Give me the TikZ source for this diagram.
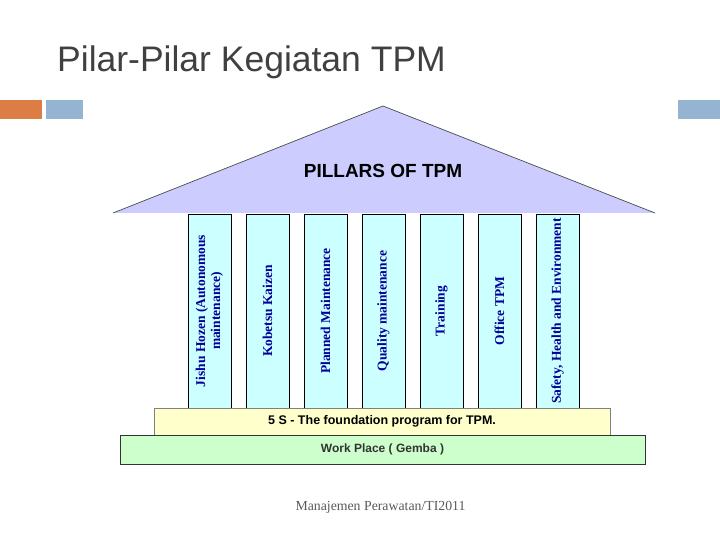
\documentclass[tikz,border=0pt]{standalone}
\usepackage{fontspec}
\setmainfont{Liberation Serif}
\setsansfont{Liberation Sans}
\usepackage{xcolor}
\usetikzlibrary{positioning,calc}
\definecolor{tpmorange}{HTML}{DC7D46}
\definecolor{tpmsteel}{HTML}{94B4D2}
\definecolor{tpmroof}{HTML}{CCCCFF}
\definecolor{tpmcyan}{HTML}{CCFFFF}
\definecolor{tpmyellow}{HTML}{FFFFCC}
\definecolor{tpmgreen}{HTML}{CCFFCC}
\definecolor{tpmnavy}{HTML}{000099}
\definecolor{tpmtitle}{HTML}{404040}

\begin{document}
\begin{tikzpicture}[x=1pt, y=-1pt,
    pillar/.style={draw=black, line width=0.8pt, fill=tpmcyan, rotate=90,
                   minimum width=194pt, minimum height=43pt, inner sep=1pt,
                   font=\fontsize{13.5}{15}\selectfont\bfseries, text=tpmnavy,
                   align=center},
    band/.style={line width=0.7pt, inner sep=0pt,
                 font=\sffamily\bfseries\fontsize{12.5}{14}\selectfont},
    deco/.style={inner sep=0pt, minimum height=19pt}
]
  \useasboundingbox (0,0) rectangle (720,540);
  % Title
  \node[anchor=base west, inner sep=0pt, text=tpmtitle,
        font=\sffamily\fontsize{35.5}{40}\selectfont] (title) at (57,72)
        {Pilar-Pilar Kegiatan TPM};
  % Header marks
  \node[deco, fill=tpmorange, minimum width=42pt] (markL) at (21,109.5) {};
  \node[deco, fill=tpmsteel, minimum width=37pt, right=4pt of markL] (markM) {};
  \node[deco, fill=tpmsteel, minimum width=42pt] (markR) at (699,109.5) {};
  % Roof
  \coordinate (roofL) at (113,213);
  \coordinate (roofT) at (383,106);
  \coordinate (roofR) at (655,213);
  \fill[tpmroof] (roofL) -- (roofT) -- (roofR) -- cycle;
  \draw[gray!60!black, line width=0.7pt] (roofL) -- (roofT) -- (roofR);
  \node[font=\sffamily\bfseries\fontsize{19}{22}\selectfont] (roof) at (383,171)
        {PILLARS OF TPM};
  % Pillars
  \node[pillar] (p1) at (209.5,311) {Jishu Hozen (Autonomous\\maintenance)};
  \node[pillar] (p2) at (267.5,311) {Kobetsu Kaizen};
  \node[pillar] (p3) at (325.5,311) {Planned Maintenance};
  \node[pillar] (p4) at (383.5,311) {Quality maintenance};
  \node[pillar] (p5) at (441.5,311) {Training};
  \node[pillar] (p6) at (499.5,311) {Office TPM};
  \node[pillar] (p7) at (557.5,311) {Safety, Health and Environment};
  % Foundation
  \node[band, draw=gray, fill=tpmyellow, minimum width=456pt, minimum height=27pt]
        (fives) at (382,421.5) {5 S - The foundation program for TPM.};
  \node[band, draw=black!80, fill=tpmgreen, minimum width=525pt, minimum height=29pt,
        text=black!80, font=\sffamily\bfseries\fontsize{12}{14}\selectfont]
        (gemba) at (382.5,449.5) {Work Place ( Gemba )};
  % Footer
  \node[text=black!65, font=\fontsize{13.8}{16}\selectfont] (footer) at (380.5,507)
        {Manajemen Perawatan/TI2011};
\end{tikzpicture}
\end{document}
